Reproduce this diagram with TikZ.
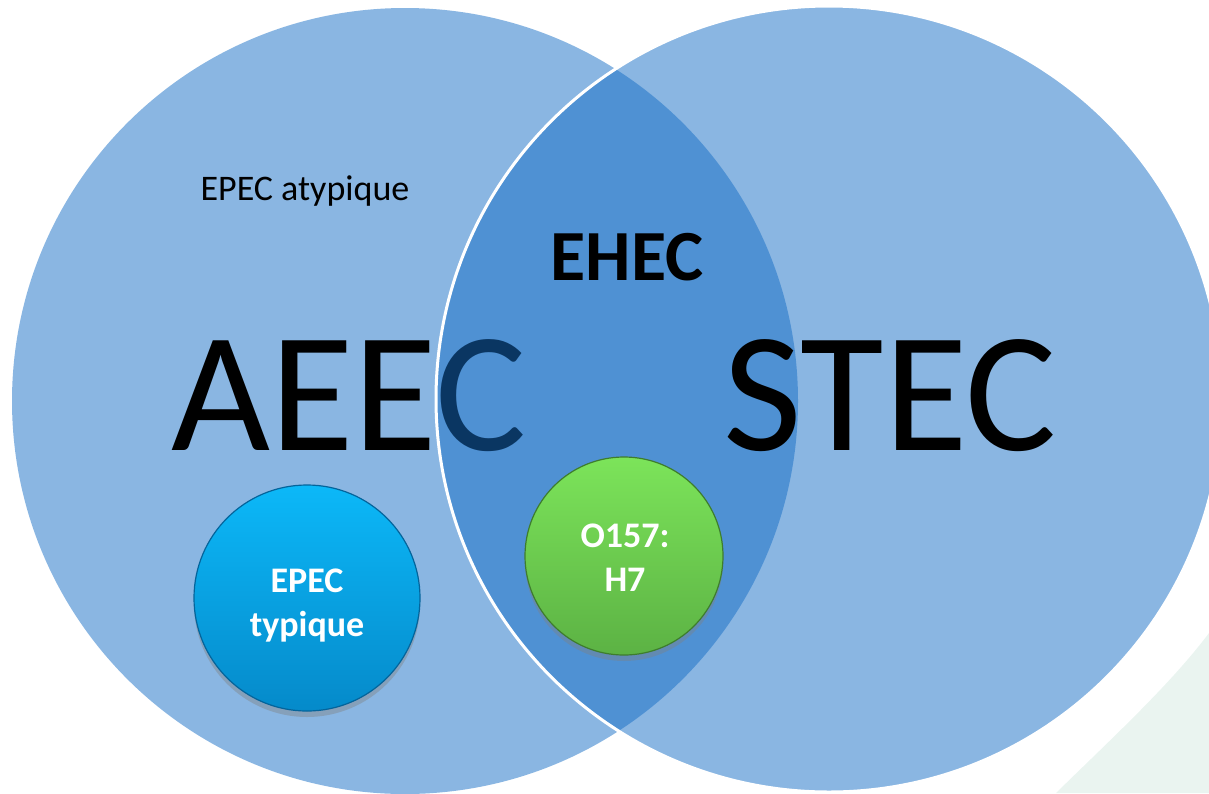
\documentclass[tikz,border=0pt]{standalone}
\usepackage{fontspec}
\setmainfont{Carlito}
\usetikzlibrary{shadows}
\definecolor{circfill}{RGB}{21,109,197}
\definecolor{pale}{RGB}{234,244,240}
\definecolor{bluetop}{RGB}{12,184,248}
\definecolor{bluemid}{RGB}{8,162,232}
\definecolor{bluebot}{RGB}{5,138,202}
\definecolor{bluerim}{RGB}{4,100,155}
\definecolor{greentop}{RGB}{124,228,90}
\definecolor{greenmid}{RGB}{110,208,80}
\definecolor{greenbot}{RGB}{92,178,68}
\definecolor{greenrim}{RGB}{62,125,45}
\begin{document}
\begin{tikzpicture}[x=1pt,y=-1pt,
  setcircle/.style={circle, inner sep=0pt, minimum size=786pt, fill=circfill, fill opacity=0.5},
  bigword/.style={font=\fontsize{171}{171}\selectfont, inner sep=0pt, anchor=base},
  midword/.style={font=\bfseries\fontsize{72}{72}\selectfont, inner sep=0pt, anchor=base},
  smallword/.style={font=\fontsize{36}{44}\selectfont, inner sep=0pt, anchor=base},
  ball/.style={circle, inner sep=0pt, line width=1.2pt,
    drop shadow={opacity=0.4, shadow xshift=0pt, shadow yshift=-6pt}},
  balltext/.style={text=white, font=\bfseries\fontsize{36}{44}\selectfont, inner sep=0pt, anchor=base}
]
\useasboundingbox (0,0) rectangle (1209,793);
\fill[pale] (1056,793) .. controls (1110,740) and (1170,685) .. (1209,633) -- (1209,793) -- cycle;
% left circle and its texts
\node[setcircle] (aeecset) at (405,401) {};
\node[bigword] (aeec) at (349,450) {AEEC};
\node[smallword] (atyp) at (305,200) {EPEC atypique};
\node[ball, minimum size=226pt, top color=bluetop, middle color=bluemid, bottom color=bluebot, draw=bluerim] (typball) at (307,598) {};
\node[balltext] (typtext) at (307,592) {\begin{tabular}[t]{@{}c@{}}EPEC\\typique\end{tabular}};
% right circle
\node[setcircle, draw=white, line width=3pt, draw opacity=1] (stecset) at (829,399) {};
\node[midword] (ehec) at (627,280) {EHEC};
\node[bigword] (stec) at (890,450) {STEC};
\node[ball, minimum size=198pt, top color=greentop, middle color=greenmid, bottom color=greenbot, draw=greenrim] (oball) at (624,556) {};
\node[balltext] (otext) at (625,547) {\begin{tabular}[t]{@{}c@{}}O157:\\H7\end{tabular}};
\end{tikzpicture}
\end{document}
